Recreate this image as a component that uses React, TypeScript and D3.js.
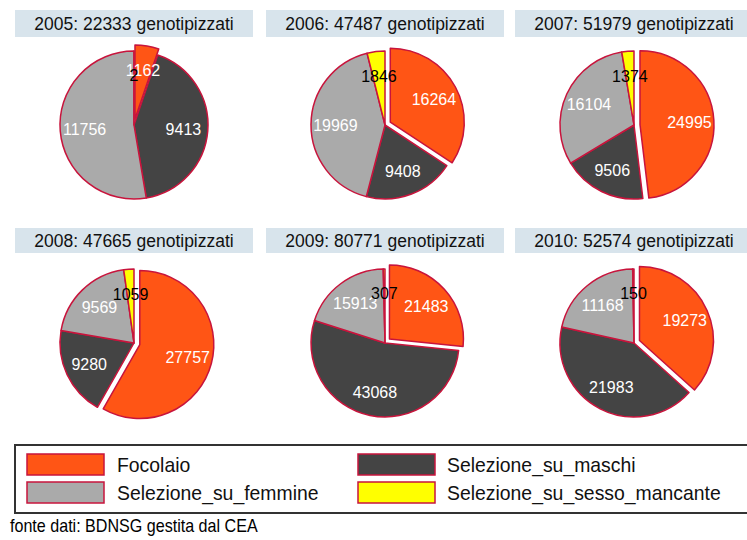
import React from "react";
import * as d3 from "d3";

const categories = ["Focolaio", "Selezione_su_maschi", "Selezione_su_femmine", "Selezione_su_sesso_mancante"];
const years = ["2005", "2006", "2007", "2008", "2009", "2010"];
const totals = [22333, 47487, 51979, 47665, 80771, 52574];
const focolaio = [1162, 16264, 24995, 27757, 21483, 19273];
const maschi = [9413, 9408, 9506, 9280, 43068, 21983];
const femmine = [11756, 19969, 16104, 9569, 15913, 11168];
const mancante = [2, 1846, 1374, 1059, 307, 150];
const colors = ["#ff5515", "#444444", "#aaaaaa", "#ffff00"];
const labelColors = ["#ffffff", "#ffffff", "#ffffff", "#000000"];
const legendOrder = [0, 1, 2, 3];

const W = 747;
const H = 540;
const colX = [134, 385, 634];
const rowY = [125, 343];
const boxY = [10, 228];
const boxH = [27, 25];
const R = 74;
const explode = 6;
const outline = "#c8143c";
const font = "'Liberation Sans', Arial, sans-serif";

export default function App() {
  const pie = d3
    .pie<number>()
    .sort(null)
    .value((d) => d)
    .startAngle(0)
    .endAngle(2 * Math.PI);
  const arc = d3.arc<d3.PieArcDatum<number>>().innerRadius(0).outerRadius(R);

  return (
    <svg
      width={W}
      height={H}
      style={{ position: "absolute", left: 0, top: 0, background: "#fff" }}
      fontFamily={font}
    >
      <rect x={0} y={0} width={W} height={H} fill="#fff" />
      {years.map((yr, i) => {
        const col = i % 3;
        const row = Math.floor(i / 3);
        const cx = colX[col];
        const cy = rowY[row];
        const vals = [focolaio[i], maschi[i], femmine[i], mancante[i]];
        const arcs = pie(vals);
        const bw = 238;
        return (
          <g key={yr}>
            <rect x={cx - bw / 2} y={boxY[row]} width={bw} height={boxH[row]} fill="#d8e4ec" />
            <text
              x={cx}
              y={boxY[row] + boxH[row] / 2 + 6}
              textAnchor="middle"
              fontSize={17.5}
              fill="#111"
            >
              {`${yr}: ${totals[i]} genotipizzati`}
            </text>
            {arcs.map((a, k) => {
              const mid = (a.startAngle + a.endAngle) / 2;
              const off = k === 0 ? explode : 0;
              const ox = Math.sin(mid) * off;
              const oy = -Math.cos(mid) * off;
              return (
                <path
                  key={k}
                  d={arc(a) || ""}
                  transform={`translate(${cx + ox},${cy + oy})`}
                  fill={colors[k]}
                  stroke={outline}
                  strokeWidth={1.5}
                  strokeLinejoin="round"
                />
              );
            })}
            {arcs.map((a, k) => {
              const mid = (a.startAngle + a.endAngle) / 2;
              const off = k === 0 ? explode : 0;
              const rr = R * 0.67 + off;
              const lx = cx + Math.sin(mid) * rr;
              const ly = cy - Math.cos(mid) * rr;
              return (
                <text
                  key={"l" + k}
                  x={lx}
                  y={ly + 6}
                  textAnchor="middle"
                  fontSize={16}
                  fill={labelColors[k]}
                >
                  {vals[k]}
                </text>
              );
            })}
          </g>
        );
      })}
      <rect x={15} y={445} width={760} height={68} fill="#fff" stroke="#333" strokeWidth={2} />
      {legendOrder.map((k) => {
        const lc = k % 2;
        const lr = Math.floor(k / 2);
        const sx = lc === 0 ? 27 : 358;
        const sy = lr === 0 ? 454 : 482;
        const tx = lc === 0 ? 117 : 447;
        return (
          <g key={"lg" + k}>
            <rect x={sx} y={sy} width={77} height={21} fill={colors[k]} stroke={outline} strokeWidth={1.5} />
            <g transform={`translate(${tx},${sy + 18}) scale(0.97,1)`}>
              <text x={0} y={0} fontSize={20} fill="#111">
                {categories[k]}
              </text>
            </g>
          </g>
        );
      })}
      <g transform="translate(10,532) scale(0.92,1)">
        <text x={0} y={0} fontSize={17.5} fill="#000">
          fonte dati: BDNSG gestita dal CEA
        </text>
      </g>
    </svg>
  );
}
